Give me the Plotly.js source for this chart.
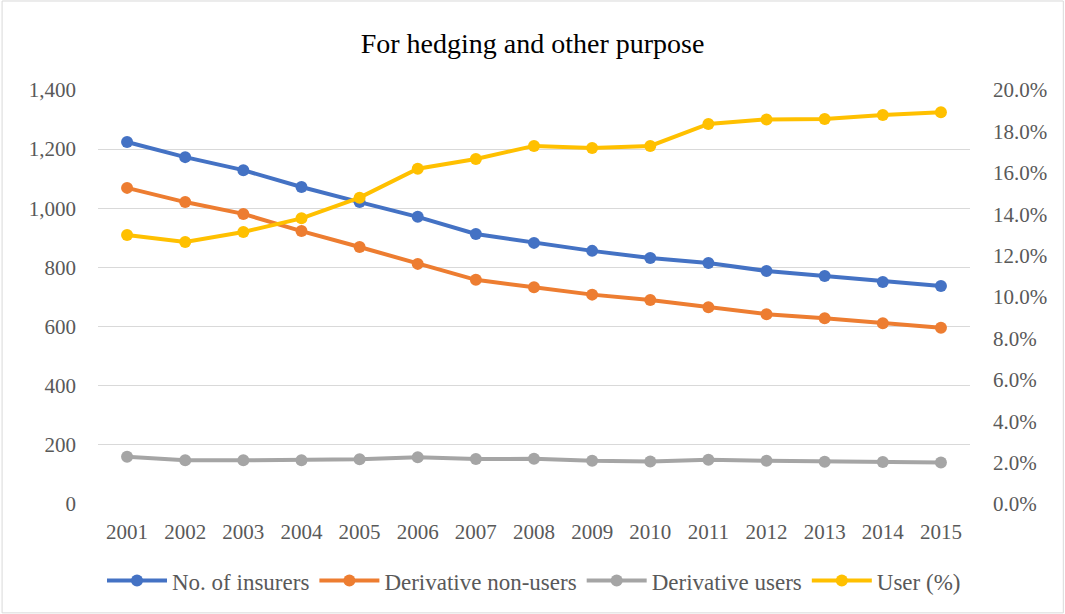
<!DOCTYPE html>
<html>
<head>
<meta charset="utf-8">
<script src="https://cdn.plot.ly/plotly-3.0.1.min.js"></script>
<style>html,body{margin:0;padding:0;background:#fff;}#chart{width:1065px;height:614px;}</style>
</head>
<body>
<div id="chart"></div>
<script>
const years = ['2001','2002','2003','2004','2005','2006','2007','2008','2009','2010','2011','2012','2013','2014','2015'];
const insurers = [1224,1173,1129,1072,1021,971,913,883,856,832,815,788,771,751,737];
const nonUsers = [1069,1021,981,923,869,812,758,733,708,690,665,642,628,611,596];
const users = [160,148,148,148,151,158,152,153,146,144,150,146,143,142,140];
const userPct = [13.0,12.66,13.14,13.8,14.8,16.2,16.67,17.3,17.2,17.3,18.36,18.58,18.6,18.79,18.92];

const fam = 'Liberation Serif';
const font = {family: fam, color: '#595959', size: 21};
function tr(name, y, color, axis) {
  return {x: years, y: y, name: name, type: 'scatter', mode: 'lines+markers', yaxis: axis,
    line: {color: color, width: 4}, marker: {color: color, size: 12}};
}
const data = [
  tr('No. of insurers', insurers, '#4472C4', 'y'),
  tr('Derivative non-users', nonUsers, '#ED7D31', 'y'),
  tr('Derivative users', users, '#A5A5A5', 'y'),
  tr('User (%)', userPct, '#FFC000', 'y2')
];
const layout = {
  width: 1065, height: 614,
  margin: {l: 98, r: 95, t: 90, b: 110},
  paper_bgcolor: '#fff', plot_bgcolor: '#fff',
  font: font,
  title: {text: 'For hedging and other purpose', font: {family: fam, color: '#000', size: 28}, x: 0.5, xanchor: 'center', y: 0.93, yanchor: 'middle'},
  xaxis: {type: 'category', range: [-0.5, 14.5], showgrid: false, zeroline: false, showline: false, ticks: '', tickfont: font, ticklabelstandoff: 13},
  yaxis: {range: [0, 1400], dtick: 200, tickformat: ',d', showgrid: true, gridcolor: '#d9d9d9', gridwidth: 1, zeroline: false, showline: false, ticks: '', tickfont: font, ticklabelstandoff: 21},
  yaxis2: {range: [0, 20], dtick: 2, tickformat: '.1f', ticksuffix: '%', overlaying: 'y', side: 'right', showgrid: false, zeroline: false, showline: false, ticks: '', tickfont: font, ticklabelstandoff: 22},
  legend: {orientation: 'h', x: 0.5, xanchor: 'center', y: -0.185, yanchor: 'middle', font: {family: fam, color: '#595959', size: 23}, traceorder: 'normal', itemwidth: 60},
  showlegend: true,
  shapes: [{type: 'rect', xref: 'paper', yref: 'paper', x0: -0.11, x1: 1.107, y0: -0.263, y1: 1.215, line: {color: '#d9d9d9', width: 1}, fillcolor: 'rgba(0,0,0,0)'}]
};
Plotly.newPlot('chart', data, layout, {displayModeBar: false, staticPlot: true});
</script>
</body>
</html>
